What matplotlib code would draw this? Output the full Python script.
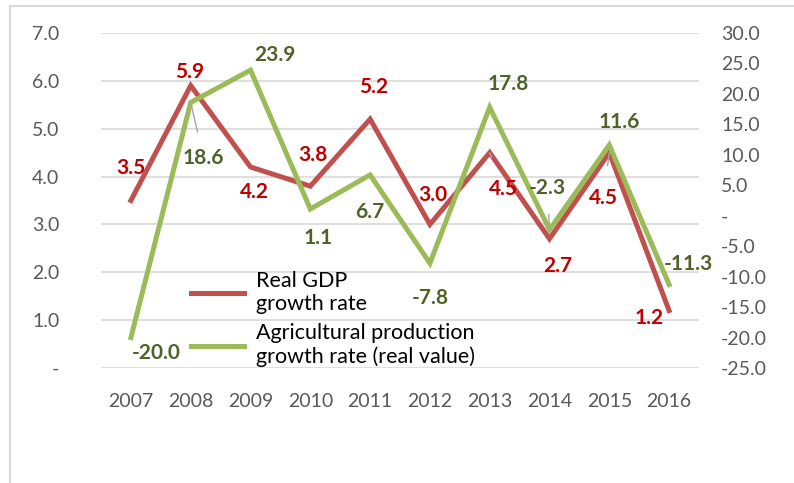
import matplotlib.pyplot as plt
from matplotlib.lines import Line2D

plt.rcParams['font.family'] = ['Lato', 'DejaVu Sans']

# data
years = ['2007', '2008', '2009', '2010', '2011', '2012', '2013', '2014', '2015', '2016']
gdp = [3.5, 5.9, 4.2, 3.8, 5.2, 3.0, 4.5, 2.7, 4.5, 1.2]
agri = [-20.0, 18.6, 23.9, 1.1, 6.7, -7.8, 17.8, -2.3, 11.6, -11.3]

# label offsets in pixels (dx, dy)
gdp_off = [(0, 32), (-1, 14), (4, -25), (3, 31), (4, 32), (3, 29), (14, -36), (8, -27), (-6, -45), (-20, -7)]
agri_off = [(25, -15), (13, -56), (24, 15), (8, -29), (0, -37), (0, -35), (19, 23), (-2, 42), (10, 23), (19, 21)]
agri_leaders = [1, 7]
gdp_leaders = [6, 8]

red = '#C0504D'
green = '#9BBB59'
red_txt = '#C00000'
green_txt = '#4F6228'
tick_col = '#595959'

fig = plt.figure(figsize=(7.94, 4.83), dpi=100)
ax = fig.add_axes([101 / 794, 1 - 368 / 483, 598 / 794, 335 / 483])
ax2 = ax.twinx()

x = list(range(len(years)))
ax.plot(x, gdp, color=red, lw=3.6, solid_joinstyle='miter', zorder=3, label='Real GDP\ngrowth rate')
ax2.plot(x, agri, color=green, lw=3.6, solid_joinstyle='miter', zorder=3,
         label='Agricultural production\ngrowth rate (real value)')

ax.set_xlim(-0.5, 9.5)
ax.set_ylim(0, 7)
ax2.set_ylim(-25, 30)

ax.set_yticks(range(0, 8))
ax.set_yticklabels(['-'] + ['%.1f' % v for v in range(1, 8)])
ax2.set_yticks(range(-25, 31, 5))
ax2.set_yticklabels(['-' if v == 0 else '%.1f' % v for v in range(-25, 31, 5)])
ax.set_xticks(x)
ax.set_xticklabels(years)

for a in (ax, ax2):
    for s in a.spines.values():
        s.set_visible(False)
    a.tick_params(length=0, labelsize=14, colors=tick_col)
ax.tick_params(axis='y', pad=30)
ax.tick_params(axis='x', pad=18)
ax2.tick_params(axis='y', pad=16)
ax.grid(axis='y', color='#D9D9D9', lw=1.2)
ax.set_axisbelow(True)

leader = dict(arrowstyle='-', color='#A6A6A6', lw=1, shrinkA=10, shrinkB=0)

for i in x:
    dx, dy = gdp_off[i]
    kw = {}
    if i in gdp_leaders:
        kw['arrowprops'] = dict(leader, shrinkA=14)
    ax2.annotate('%.1f' % gdp[i], (i, gdp[i]), xytext=(dx, dy), textcoords='offset pixels',
                 xycoords=ax.transData, ha='center', va='center', color=red_txt,
                 fontsize=15, fontweight='bold', zorder=5, **kw)
for i in x:
    dx, dy = agri_off[i]
    kw = {}
    if i in agri_leaders:
        kw['arrowprops'] = leader
    ax2.annotate('%.1f' % agri[i], (i, agri[i]), xytext=(dx, dy), textcoords='offset pixels',
                 ha='center', va='center', color=green_txt, fontsize=15, fontweight='bold', zorder=5, **kw)

h1, l1 = ax.get_legend_handles_labels()
h2, l2 = ax2.get_legend_handles_labels()
ax2.legend(h1 + h2, l1 + l2, loc='upper left', bbox_to_anchor=(182 / 794, 1 - 262 / 483),
           bbox_transform=fig.transFigure, frameon=False, fontsize=15.5, handlelength=2.5,
           handletextpad=0.55, labelspacing=0.45, borderaxespad=0)

# chart frame
fig.add_artist(Line2D([10 / 794, 10 / 794], [0, 1 - 6 / 483], color='#D9D9D9', lw=1.5))
fig.add_artist(Line2D([10 / 794, 1], [1 - 6 / 483, 1 - 6 / 483], color='#D9D9D9', lw=1.5))

fig.savefig('out.png', dpi=100)
